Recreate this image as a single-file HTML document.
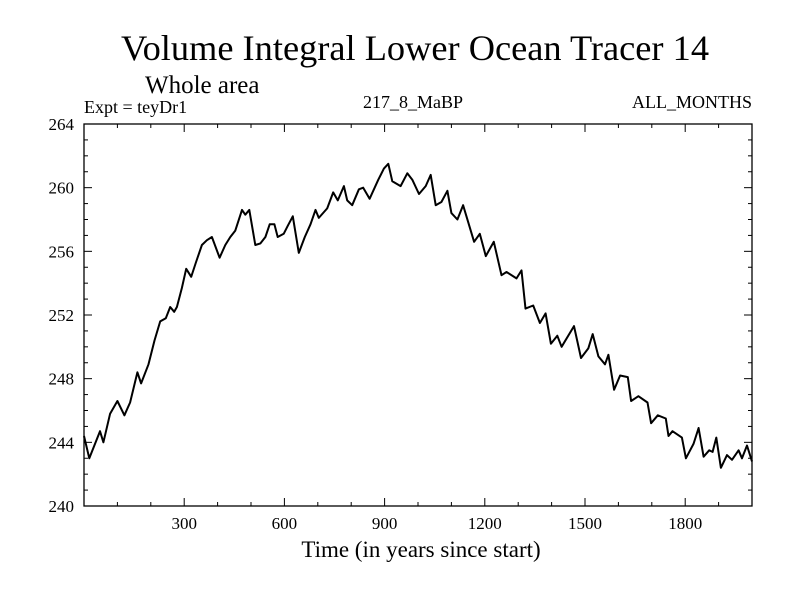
<!DOCTYPE html>
<html><head><meta charset="utf-8"><style>
html,body{margin:0;padding:0;background:#fff;}
svg{display:block;font-family:"Liberation Serif",serif;}
</style></head><body>
<svg id="chart" width="800" height="600" viewBox="0 0 800 600" xmlns="http://www.w3.org/2000/svg">
<rect width="800" height="600" fill="#fff"/>
<text x="415" y="60" font-size="36" text-anchor="middle" textLength="588" lengthAdjust="spacingAndGlyphs">Volume Integral Lower Ocean Tracer 14</text>
<text x="145" y="93" font-size="25">Whole area</text>
<text x="84" y="113" font-size="18">Expt = teyDr1</text>
<text x="413" y="108" font-size="18" text-anchor="middle">217_8_MaBP</text>
<text x="752" y="108" font-size="18" text-anchor="end">ALL_MONTHS</text>
<text x="421" y="557" font-size="23" text-anchor="middle">Time (in years since start)</text>
<g id="axes"></g>
<g id="series"></g>
</svg>
<script>
const years = [0,16,48,58,78,100,121,138,160,171,193,211,228,245,258,270,278,293,306,321,335,353,368,383,406,423,438,453,473,483,495,513,528,543,556,570,580,598,610,625,643,661,678,693,703,728,746,760,778,788,803,823,836,855,881,898,911,923,948,968,983,1003,1023,1038,1053,1070,1088,1100,1118,1135,1168,1185,1203,1227,1250,1265,1295,1310,1322,1345,1365,1382,1398,1417,1430,1467,1488,1510,1523,1540,1560,1570,1587,1605,1628,1638,1660,1687,1698,1718,1742,1750,1762,1790,1802,1825,1840,1855,1872,1882,1893,1907,1925,1940,1960,1970,1985,2000];
const values = [244.4,243.0,244.7,244.0,245.8,246.6,245.7,246.5,248.4,247.7,248.9,250.4,251.6,251.8,252.5,252.2,252.5,253.7,254.9,254.4,255.3,256.4,256.7,256.9,255.6,256.4,256.9,257.3,258.6,258.3,258.6,256.4,256.5,256.9,257.7,257.7,256.9,257.1,257.6,258.2,255.9,256.9,257.7,258.6,258.1,258.7,259.7,259.2,260.1,259.2,258.9,259.9,260.0,259.3,260.5,261.2,261.5,260.4,260.1,260.9,260.5,259.6,260.1,260.8,258.9,259.1,259.8,258.4,258.0,258.9,256.6,257.1,255.7,256.6,254.5,254.7,254.3,254.8,252.4,252.6,251.5,252.1,250.2,250.7,250.0,251.3,249.3,249.9,250.8,249.4,248.9,249.5,247.3,248.2,248.1,246.6,246.9,246.5,245.2,245.7,245.5,244.4,244.7,244.3,243.0,243.9,244.9,243.1,243.5,243.4,244.3,242.4,243.2,242.9,243.5,243.0,243.8,242.8];
const xTicks = [300,600,900,1200,1500,1800];
const yTicks = [240,244,248,252,256,260,264];
const xDomain = [0,2000];
const yDomain = [240,264];

const L=84,R=752,T=124,B=506;
const NS='http://www.w3.org/2000/svg';
function sx(v){return L+(v-xDomain[0])/(xDomain[1]-xDomain[0])*(R-L);}
function sy(v){return B-(v-yDomain[0])/(yDomain[1]-yDomain[0])*(B-T);}
function mk(tag,attrs,parent){const e=document.createElementNS(NS,tag);for(const k in attrs)e.setAttribute(k,attrs[k]);parent.appendChild(e);return e;}
const axes=document.getElementById('axes');
const frame=mk('rect',{x:L,y:T,width:R-L,height:B-T,fill:'none',stroke:'#000','stroke-width':1.3},axes);


for(let v=100;v<xDomain[1];v+=100){
  const major=xTicks.includes(v);const len=major?8:4;const x=sx(v);
  const t1=mk('line',{x1:x,x2:x,y1:B,y2:B-len,stroke:'#000','stroke-width':1},axes);
  
  
  const t2=mk('line',{x1:x,x2:x,y1:T,y2:T+len,stroke:'#000','stroke-width':1},axes);
  
  
}
xTicks.forEach(v=>{
  const t=mk('text',{x:sx(v),y:529,'font-size':17,'text-anchor':'middle'},axes);
  t.textContent=v;
  
  
});
for(let v=yDomain[0]+1;v<yDomain[1];v+=1){
  const major=yTicks.includes(v);const len=major?8:4;const y=sy(v);
  const t1=mk('line',{x1:L,x2:L+len,y1:y,y2:y,stroke:'#000','stroke-width':1},axes);
  
  
  const t2=mk('line',{x1:R,x2:R-len,y1:y,y2:y,stroke:'#000','stroke-width':1},axes);
  
  
}
yTicks.forEach(v=>{
  const t=mk('text',{x:74,y:sy(v)+6,'font-size':17,'text-anchor':'end'},axes);
  t.textContent=v;
  
  
});
const series=document.getElementById('series');
const d=years.map((y,i)=>(i?'L':'M')+sx(y).toFixed(1)+','+sy(values[i]).toFixed(1)).join(' ');
const p=mk('path',{d:d,fill:'none',stroke:'#000','stroke-width':2,'stroke-linejoin':'round'},series);


</script>
</body></html>
